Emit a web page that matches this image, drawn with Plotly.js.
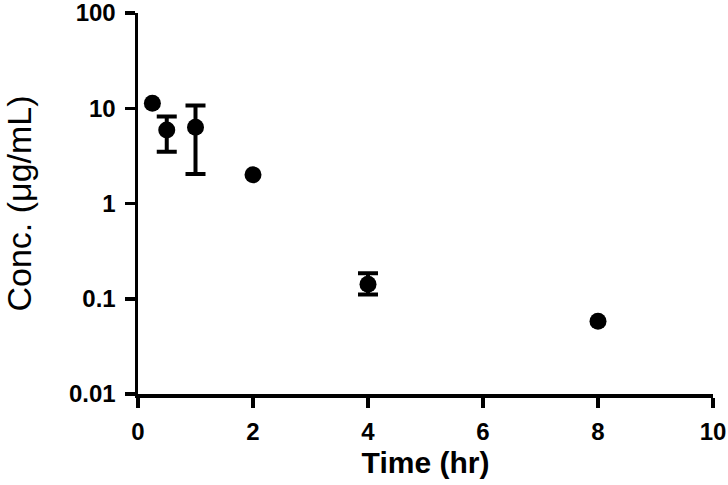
<!DOCTYPE html>
<html>
<head>
<meta charset="utf-8">
<script src="https://cdn.plot.ly/plotly-3.0.1.min.js"></script>
<style>
	html, body { margin: 0; padding: 0; background: #fff; }
	#grafico { width: 728px; height: 485px; }
</style>
</head>
<body>
<div id="grafico"></div>
<script>
// Valores (tiempo en horas, concentración en µg/mL)
const tiempos = [0.25, 0.5, 1, 2, 4, 8];
const conc = [11.3, 5.9, 6.3, 2.0, 0.142, 0.058];
// Límites de las barras de error (null = sin barra visible)
const limiteSup = [null, 8.2, 10.7, null, 0.185, null];
const limiteInf = [null, 3.5, 2.04, null, 0.111, null];

const ticksY = [0.01, 0.1, 1, 10, 100];
const etiquetasY = ["0.01", "0.1", "1", "10", "100"];
const ticksX = [0, 2, 4, 6, 8, 10];

const fuente = "Liberation Sans, Arial, sans-serif";

function errores(limites, signo) {
	return limites.map((v, i) => (v === null ? NaN : signo * (v - conc[i])));
}

let trace = {
	x: tiempos,
	y: conc,
	type: "scatter",
	mode: "markers",
	marker: { color: "#000", size: 17 },
	error_y: {
		type: "data",
		symmetric: false,
		array: errores(limiteSup, 1),
		arrayminus: errores(limiteInf, -1),
		color: "#000",
		thickness: 4,
		width: 10,
	},
	cliponaxis: false,
};

// estilo común de los ejes
function ejeBase() {
	return {
		showgrid: false,
		zeroline: false,
		showline: true,
		linewidth: 3.5,
		linecolor: "#000",
		ticks: "outside",
		ticklen: 10,
		tickwidth: 3.5,
		tickcolor: "#000",
		tickfont: { family: fuente, size: 24, weight: "bold" },
		ticklabeloverflow: "allow",
		ticklabelstandoff: 4,
	};
}

let layout = {
	width: 728,
	height: 485,
	margin: { l: 138, r: 15, t: 13, b: 91 },
	paper_bgcolor: "#fff",
	plot_bgcolor: "#fff",
	showlegend: false,
	font: { family: fuente, color: "#000" },
	xaxis: {
		...ejeBase(),
		range: [0, 10],
		tickvals: ticksX,
		title: {
			text: "Time (hr)",
			font: { family: fuente, size: 30, weight: "bold" },
			standoff: 8,
		},
	},
	yaxis: {
		...ejeBase(),
		type: "log",
		range: [-2, 2],
		tickvals: ticksY,
		ticktext: etiquetasY,
		title: {
			text: "Conc. (μg/mL)",
			font: { family: fuente, size: 34, weight: "normal" },
			standoff: 38,
		},
	},
};

Plotly.newPlot("grafico", [trace], layout, { staticPlot: true });
</script>
</body>
</html>
